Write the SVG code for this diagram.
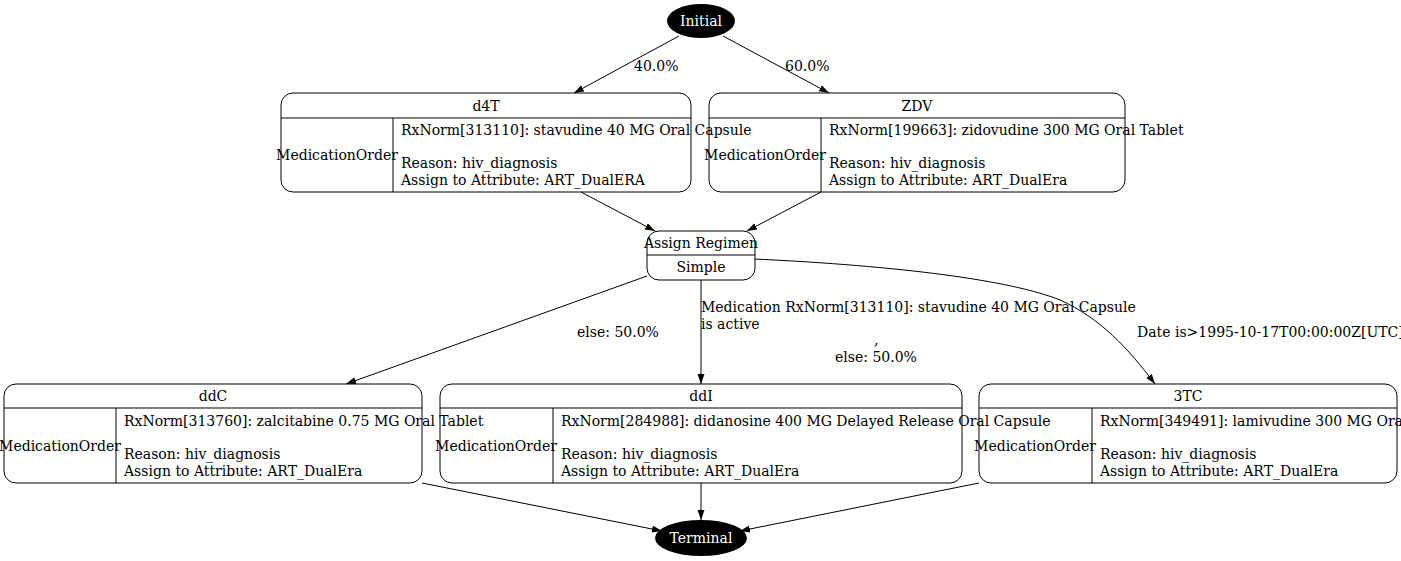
<svg xmlns="http://www.w3.org/2000/svg" width="1401" height="561" viewBox="0 0 1401 561">
<defs>
<style>
text{font-family:"DejaVu Serif","Liberation Serif",serif;font-size:14px;fill:#000}
.c{text-anchor:middle}
.w{fill:#fff}
.box{fill:none;stroke:#000;stroke-width:1}
.ln{stroke:#000;stroke-width:1;fill:none}
.e{stroke:#000;stroke-width:1;fill:none;marker-end:url(#ah)}
</style>
<marker id="ah" markerWidth="10" markerHeight="8" refX="10" refY="3.5" orient="auto" markerUnits="userSpaceOnUse">
<path d="M0,0 L10,3.5 L0,7 z" fill="#000"/>
</marker>
</defs>
<rect width="1401" height="561" fill="#fff"/>
<g id="connectors">
<path class="e" d="M679,36 L574,93"/>
<path class="e" d="M723,36 L829,93"/>
<path class="e" d="M581,192 L655,231"/>
<path class="e" d="M821,192 L747,231"/>
<path class="e" d="M647,276 L346,384"/>
<path class="e" d="M701,280 L701,384"/>
<path class="e" d="M755,259 C900,266 1010,280 1060,300 C1100,318 1128,348 1155,384"/>
<path class="e" d="M422,483 L662,531"/>
<path class="e" d="M701,483 L701,520"/>
<path class="e" d="M979,483 L740,531"/>
<text x="634" y="71">40.0%</text>
<text x="785" y="71">60.0%</text>
<text x="577" y="337">else: 50.0%</text>
<text x="701" y="312">Medication RxNorm[313110]: stavudine 40 MG Oral Capsule</text>
<text x="701" y="329">is active</text>
<text x="874" y="345">,</text>
<text x="835" y="362">else: 50.0%</text>
<text x="1137" y="337">Date is&gt;1995-10-17T00:00:00Z[UTC]</text>
</g>
<g id="initial">
<ellipse cx="701" cy="21" rx="34" ry="17" fill="#000"/>
<text class="c w" x="701" y="26">Initial</text>
</g>
<g id="d4T">
<rect class="box" x="281" y="93" width="410" height="99" rx="12"/>
<path class="ln" d="M281,118 H691 M393,118 V192"/>
<text class="c" x="486" y="111">d4T</text>
<text class="c" x="337" y="160">MedicationOrder</text>
<text x="401" y="135">RxNorm[313110]: stavudine 40 MG Oral Capsule</text>
<text x="401" y="168">Reason: hiv_diagnosis</text>
<text x="401" y="185">Assign to Attribute: ART_DualERA</text>
</g>
<g id="ZDV">
<rect class="box" x="709" y="93" width="416" height="99" rx="12"/>
<path class="ln" d="M709,118 H1125 M821,118 V192"/>
<text class="c" x="917" y="111">ZDV</text>
<text class="c" x="765" y="160">MedicationOrder</text>
<text x="829" y="135">RxNorm[199663]: zidovudine 300 MG Oral Tablet</text>
<text x="829" y="168">Reason: hiv_diagnosis</text>
<text x="829" y="185">Assign to Attribute: ART_DualEra</text>
</g>
<g id="assign">
<rect class="box" x="647" y="231" width="108" height="49" rx="12"/>
<path class="ln" d="M647,255 H755"/>
<text class="c" x="701" y="248">Assign Regimen</text>
<text class="c" x="701" y="272">Simple</text>
</g>
<g id="ddC">
<rect class="box" x="4" y="384" width="418" height="99" rx="12"/>
<path class="ln" d="M4,408 H422 M116,408 V483"/>
<text class="c" x="213" y="401">ddC</text>
<text class="c" x="60" y="451">MedicationOrder</text>
<text x="124" y="426">RxNorm[313760]: zalcitabine 0.75 MG Oral Tablet</text>
<text x="124" y="459">Reason: hiv_diagnosis</text>
<text x="124" y="476">Assign to Attribute: ART_DualEra</text>
</g>
<g id="ddI">
<rect class="box" x="440" y="384" width="522" height="99" rx="12"/>
<path class="ln" d="M440,408 H962 M553,408 V483"/>
<text class="c" x="701" y="401">ddI</text>
<text class="c" x="496" y="451">MedicationOrder</text>
<text x="561" y="426">RxNorm[284988]: didanosine 400 MG Delayed Release Oral Capsule</text>
<text x="561" y="459">Reason: hiv_diagnosis</text>
<text x="561" y="476">Assign to Attribute: ART_DualEra</text>
</g>
<g id="3TC">
<rect class="box" x="979" y="384" width="418" height="99" rx="12"/>
<path class="ln" d="M979,408 H1397 M1092,408 V483"/>
<text class="c" x="1188" y="401">3TC</text>
<text class="c" x="1035" y="451">MedicationOrder</text>
<text x="1100" y="426">RxNorm[349491]: lamivudine 300 MG Oral Tablet</text>
<text x="1100" y="459">Reason: hiv_diagnosis</text>
<text x="1100" y="476">Assign to Attribute: ART_DualEra</text>
</g>
<g id="terminal">
<ellipse cx="701" cy="538" rx="46" ry="18" fill="#000"/>
<text class="c w" x="701" y="543">Terminal</text>
</g>
</svg>
